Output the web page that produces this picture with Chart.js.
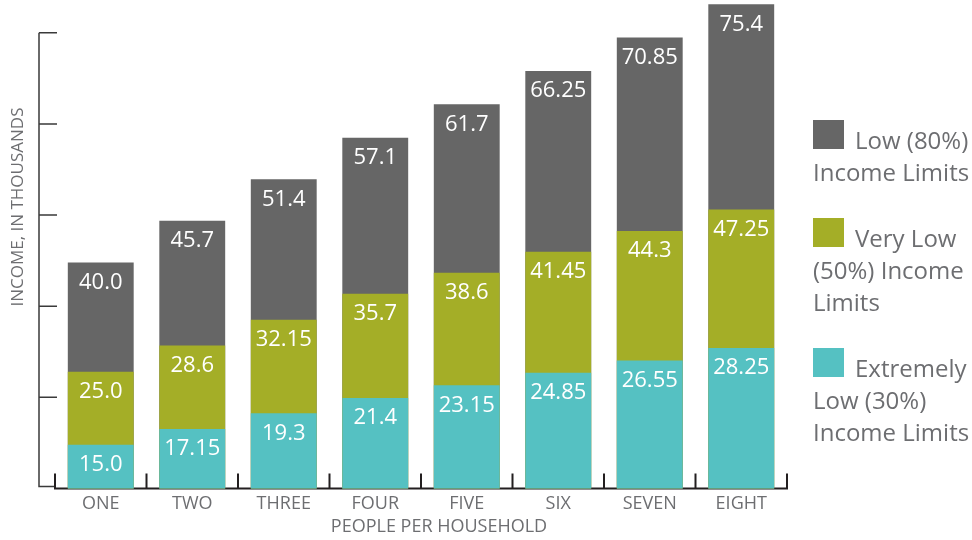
<!DOCTYPE html>
<html lang="en">
<head>
<meta charset="UTF-8">
<title>Income Limits by Household Size</title>
<script src="https://cdn.jsdelivr.net/npm/chart.js@4"></script>
<style>
    body, html {
        margin: 0;
        padding: 0;
        background: #fff;
    }
    #wrap {
        width: 972px;
        height: 540px;
    }
</style>
</head>
<body>
<div id="wrap"><canvas id="incomeChart" width="972" height="540"></canvas></div>
<script>
// household sizes
const categories = ['ONE', 'TWO', 'THREE', 'FOUR', 'FIVE', 'SIX', 'SEVEN', 'EIGHT'];
// income limits, in thousands
const extremelyLow = [15.0, 17.15, 19.3, 21.4, 23.15, 24.85, 26.55, 28.25];
const veryLow = [25.0, 28.6, 32.15, 35.7, 38.6, 41.45, 44.3, 47.25];
const low = [40.0, 45.7, 51.4, 57.1, 61.7, 66.25, 70.85, 75.4];
// unlabeled tick marks on the y axis
const yTicks = [9, 21.5, 34, 46.5, 59, 71.5];

const textGray = '#6d6e71';
const fontFamily = '"Open Sans", sans-serif';

function fmt(v) {
    return Number.isInteger(v) ? v.toFixed(1) : String(v);
}

// white value labels near the top of each bar
const barLabels = {
    id: 'barLabels',
    afterDatasetsDraw(chart) {
        const ctx = chart.ctx;
        ctx.save();
        ctx.fillStyle = '#fff';
        ctx.font = '22px ' + fontFamily;
        ctx.textAlign = 'center';
        ctx.textBaseline = 'middle';
        chart.data.datasets.forEach((ds, i) => {
            chart.getDatasetMeta(i).data.forEach((bar, j) => {
                ctx.fillText(fmt(ds.data[j]), bar.x, bar.y + 20);
            });
        });
        ctx.restore();
    }
};

// axis lines, tick marks, axis titles and the legend
const decorations = {
    id: 'decorations',
    beforeDatasetsDraw(chart) {
        const { ctx, chartArea: a, scales: { x, y } } = chart;
        const bottom = y.getPixelForValue(yTicks[0]);
        const axisX = a.left - 16;
        ctx.save();
        // y axis with ticks pointing right
        ctx.strokeStyle = '#3a3a3a';
        ctx.lineWidth = 1.5;
        ctx.beginPath();
        ctx.moveTo(axisX, y.getPixelForValue(yTicks[yTicks.length - 1]));
        ctx.lineTo(axisX, bottom - 2);
        ctx.lineTo(a.left, bottom - 2);
        yTicks.slice(1).forEach(t => {
            const py = y.getPixelForValue(t);
            ctx.moveTo(axisX, py);
            ctx.lineTo(axisX + 18, py);
        });
        ctx.stroke();
        // baseline with separators between households
        ctx.strokeStyle = '#231f20';
        ctx.lineWidth = 2;
        ctx.beginPath();
        ctx.moveTo(a.left, bottom);
        ctx.lineTo(a.right, bottom);
        for (let i = 0; i <= categories.length; i++) {
            let px;
            if (i === 0) px = a.left;
            else if (i === categories.length) px = a.right;
            else px = (x.getPixelForValue(i - 1) + x.getPixelForValue(i)) / 2;
            ctx.moveTo(px, bottom + 1);
            ctx.lineTo(px, bottom - 15);
        }
        ctx.stroke();
        ctx.restore();
    },
    afterDraw(chart) {
        const { ctx, chartArea: a } = chart;
        ctx.save();
        ctx.fillStyle = textGray;
        ctx.textAlign = 'center';
        ctx.textBaseline = 'middle';

        ctx.font = '18px ' + fontFamily;
        ctx.fillText('PEOPLE PER HOUSEHOLD', 439, 527);

        ctx.save();
        ctx.translate(18, 207);
        ctx.rotate(-Math.PI / 2);
        ctx.font = '17px ' + fontFamily;
        ctx.fillText('INCOME, IN THOUSANDS', 0, 0);
        ctx.restore();

        // legend, top series first
        ctx.textAlign = 'left';
        ctx.textBaseline = 'alphabetic';
        ctx.font = '24px ' + fontFamily;
        const x0 = a.right + 26;
        let base = 149;
        chart.data.datasets.slice().reverse().forEach(ds => {
            const lines = ds.label.split('\n');
            ctx.fillStyle = ds.backgroundColor;
            ctx.fillRect(x0, base - 29, 31, 29);
            ctx.fillStyle = textGray;
            lines.forEach((line, k) => {
                ctx.fillText(line, k === 0 ? x0 + 42 : x0, base + k * 32);
            });
            base += (lines.length - 1) * 32 + 66;
        });
        ctx.restore();
    }
};

new Chart(document.getElementById('incomeChart').getContext('2d'), {
    type: 'bar',
    data: {
        labels: categories,
        datasets: [
            { label: 'Extremely\nLow (30%)\nIncome Limits', data: extremelyLow, backgroundColor: '#55c1c2' },
            { label: 'Very Low\n(50%) Income\nLimits', data: veryLow, backgroundColor: '#a4ae27' },
            { label: 'Low (80%)\nIncome Limits', data: low, backgroundColor: '#666666' }
        ]
    },
    options: {
        responsive: false,
        animation: false,
        layout: { padding: { left: 55, right: 185, top: 0, bottom: 20 } },
        datasets: { bar: { barPercentage: 0.72, categoryPercentage: 1 } },
        plugins: {
            legend: { display: false },
            tooltip: { enabled: false }
        },
        scales: {
            x: {
                stacked: true,
                grid: { display: false, drawTicks: false },
                border: { display: false },
                ticks: { color: textGray, font: { family: fontFamily, size: 18 }, padding: 5 }
            },
            y: {
                display: false,
                stacked: false,
                min: 9,
                max: 76
            }
        }
    },
    plugins: [barLabels, decorations]
});
</script>
</body>
</html>
